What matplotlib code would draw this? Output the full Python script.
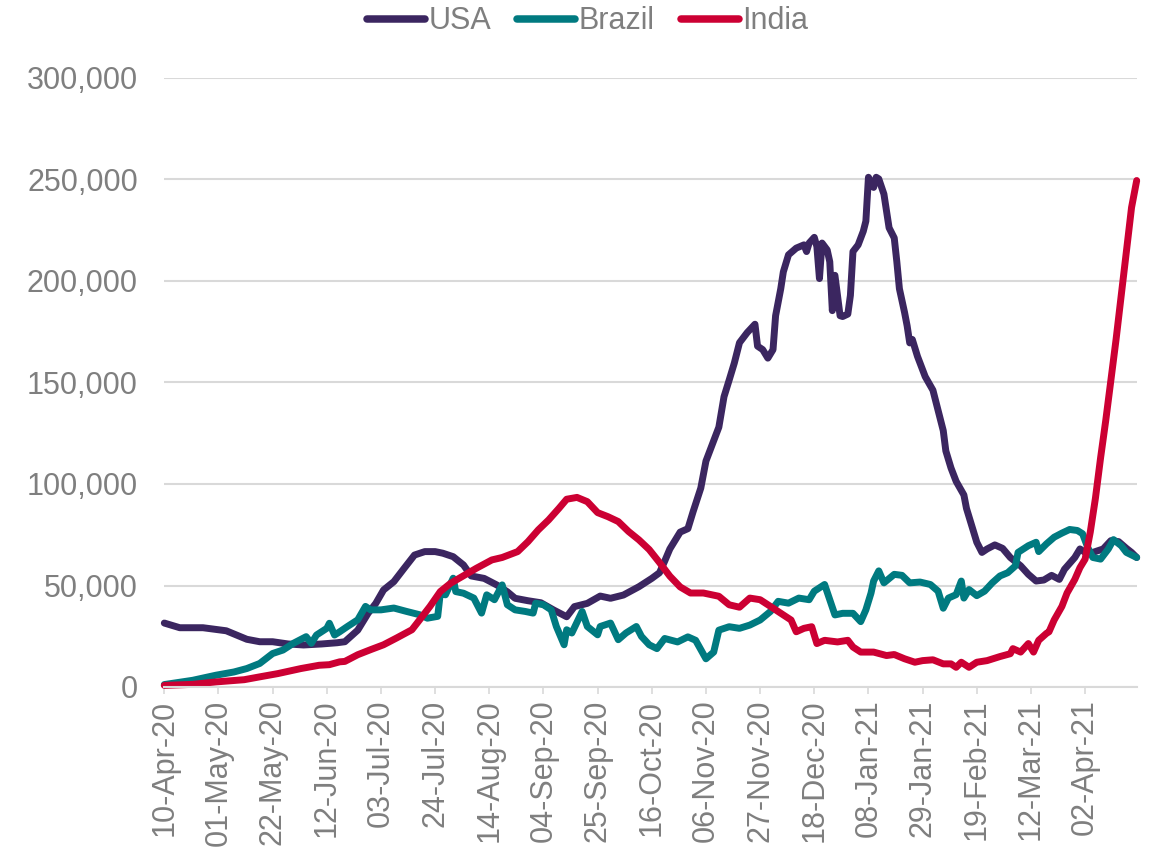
import matplotlib
matplotlib.use("Agg")
import matplotlib.pyplot as plt
from matplotlib.ticker import FuncFormatter, FixedLocator

# ---- data (values in thousands, x = days since 10-Apr-2020) ----
usa_day = [0, 6, 15, 24, 32, 37, 42, 48, 54, 61, 64, 67, 70, 75, 79, 82, 85, 89, 93, 97,
           101, 105, 108, 112, 116, 119, 124, 129, 133, 136, 141, 146, 151, 156, 159, 164,
           169, 173, 178, 184, 189, 192, 194, 196, 200, 203, 205, 208, 210, 213, 215, 217,
           219, 221, 223, 226, 229, 230, 232, 234, 236, 237, 239, 240, 242, 245, 248, 249,
           250, 252, 253, 254, 255, 257, 258, 259, 260, 262, 263, 265, 266, 267, 269, 271,
           272, 273, 275, 276, 277, 279, 281, 283, 284, 285, 287, 288, 289, 290, 292, 295,
           298, 300, 302, 303, 305, 307, 310, 311, 313, 315, 317, 319, 322, 325, 328, 332,
           335, 338, 341, 344, 347, 349, 353, 355, 357, 360, 364, 367, 370, 373, 375, 377]
usa_val = [31.5, 29.2, 29.2, 27.7, 23.5, 22.3, 22.3, 21.2, 20.7, 21.2, 21.5, 21.8, 22.3, 28.0,
           36.3, 41.2, 47.8, 51.9, 58.5, 65.0, 66.7, 66.7, 65.9, 64.2, 60.1, 54.7, 53.5, 50.2,
           46.9, 43.7, 42.5, 41.5, 37.9, 34.6, 39.6, 41.2, 44.8, 43.7, 45.3, 49.4, 53.5, 56.3,
           62.0, 68.0, 76.3, 78.0, 86.3, 98.0, 111.3, 121.3, 128.0, 143.0, 151.2, 159.6, 169.6,
           174.6, 178.7, 167.9, 166.2, 162.0, 166.2, 182.9, 196.2, 204.5, 212.9, 216.2, 217.8,
           214.5, 218.7, 221.5, 217.0, 201.2, 218.7, 215.3, 209.5, 185.4, 202.8, 182.9, 182.5,
           183.7, 192.9, 214.5, 217.8, 224.5, 229.5, 251.1, 246.1, 251.1, 250.3, 242.8, 226.2,
           221.2, 209.5, 196.2, 184.5, 177.9, 169.5, 171.2, 162.9, 152.9, 146.2, 136.2, 126.3,
           116.3, 107.9, 101.3, 94.6, 88.0, 79.6, 71.3, 66.3, 68.0, 70.0, 68.3, 63.8, 59.7,
           55.5, 52.2, 52.7, 55.0, 53.0, 58.0, 63.8, 68.0, 66.3, 66.3, 68.0, 72.1, 71.6, 68.3,
           66.3, 63.8]

brazil_day = [0, 11, 20, 27, 32, 37, 42, 46, 50, 55, 57, 59, 63, 64, 66, 68, 71, 75, 78, 80,
              84, 89, 94, 99, 102, 106, 107, 109, 112, 113, 116, 120, 123, 125, 128, 131, 133,
              136, 140, 143, 144, 147, 150, 152, 155, 156, 158, 162, 164, 168, 169, 173, 176,
              179, 183, 185, 188, 191, 194, 199, 203, 206, 210, 213, 215, 219, 223, 227, 231,
              235, 238, 242, 246, 250, 252, 256, 258, 260, 263, 267, 270, 272, 274, 275, 277,
              279, 283, 286, 289, 293, 297, 300, 302, 304, 307, 309, 310, 312, 315, 318, 321,
              324, 327, 330, 331, 335, 338, 339, 342, 345, 348, 351, 354, 356, 358, 360, 363,
              366, 368, 371, 373, 377]
brazil_val = [1.2, 3.3, 5.8, 7.4, 9.1, 11.6, 16.5, 18.2, 21.5, 24.8, 21.5, 25.6, 28.9, 31.4,
              25.6, 27.2, 29.8, 33.1, 39.7, 38.0, 38.0, 38.9, 37.2, 35.6, 33.9, 34.8, 46.2,
              45.4, 53.6, 47.0, 46.2, 43.8, 36.4, 45.4, 43.0, 50.3, 40.5, 38.0, 37.2, 36.4,
              41.3, 40.5, 38.0, 29.8, 20.8, 28.2, 26.6, 37.2, 29.8, 25.7, 29.8, 31.5, 23.3,
              26.6, 29.8, 24.9, 20.8, 18.9, 23.9, 22.2, 24.7, 23.0, 13.9, 17.2, 28.0, 29.7,
              28.9, 30.5, 33.0, 37.2, 42.2, 41.3, 43.8, 43.0, 47.2, 50.5, 43.0, 35.5, 36.3,
              36.3, 32.2, 38.0, 46.3, 52.2, 57.2, 51.3, 55.5, 55.0, 51.3, 51.7, 50.5, 47.2,
              38.8, 43.8, 45.5, 52.2, 43.8, 48.0, 45.0, 47.2, 51.3, 54.7, 56.3, 59.7, 66.3,
              69.6, 71.3, 66.7, 70.5, 73.8, 75.8, 77.6, 77.1, 75.5, 68.8, 63.8, 63.0, 68.0,
              72.6, 69.6, 66.3, 63.8]

india_day = [0, 11, 20, 31, 37, 44, 53, 60, 64, 68, 70, 75, 80, 85, 90, 96, 99, 103, 107, 111,
             116, 121, 127, 131, 137, 141, 145, 149, 153, 156, 160, 164, 168, 172, 176, 180,
             184, 188, 192, 196, 200, 204, 209, 215, 219, 223, 227, 231, 235, 240, 243, 245,
             248, 251, 253, 256, 261, 265, 267, 270, 275, 280, 283, 287, 291, 294, 298, 302,
             305, 307, 309, 312, 315, 319, 324, 328, 329, 332, 335, 337, 339, 342, 343, 345,
             348, 350, 353, 355, 357, 359, 361, 363, 365, 367, 369, 371, 373, 375, 377]
india_val = [0.8, 1.3, 2.5, 3.6, 5.0, 6.6, 9.1, 10.7, 11.0, 12.4, 12.6, 15.9, 18.4, 20.8, 24.1,
             28.2, 33.1, 39.7, 47.0, 51.1, 54.8, 58.5, 62.6, 63.8, 66.7, 71.6, 77.4, 82.3,
             88.0, 92.5, 93.4, 91.3, 85.9, 83.9, 81.5, 76.6, 72.5, 67.7, 61.3, 54.6, 49.3,
             46.3, 46.3, 44.7, 40.5, 39.3, 43.8, 43.0, 39.7, 35.5, 33.0, 27.2, 28.9, 29.7,
             21.4, 23.0, 22.2, 23.0, 19.7, 17.2, 17.2, 15.5, 16.0, 13.9, 12.2, 13.0, 13.4,
             11.4, 11.4, 9.7, 12.2, 9.7, 12.2, 13.0, 15.0, 16.4, 18.9, 17.2, 21.4, 17.2, 23.0,
             26.4, 27.2, 33.0, 39.7, 46.3, 53.0, 58.8, 63.0, 76.3, 93.0, 112.9, 131.3, 151.2,
             171.2, 192.9, 214.5, 236.2, 249.5]

tick_days = [0, 21, 42, 63, 84, 105, 126, 147, 168, 189, 210, 231, 252, 273, 294, 315, 336, 357]
tick_labels = ["10-Apr-20", "01-May-20", "22-May-20", "12-Jun-20", "03-Jul-20", "24-Jul-20",
               "14-Aug-20", "04-Sep-20", "25-Sep-20", "16-Oct-20", "06-Nov-20", "27-Nov-20",
               "18-Dec-20", "08-Jan-21", "29-Jan-21", "19-Feb-21", "12-Mar-21", "02-Apr-21"]
y_ticks = [0, 50, 100, 150, 200, 250, 300]

# ---- style ----
plt.rcParams['font.family'] = ['Liberation Sans', 'DejaVu Sans']
TXT = '#7F7F7F'
GRID = '#D9D9D9'
LW = 5.0
series = [("USA", usa_day, usa_val, '#3B2660'),
          ("Brazil", brazil_day, brazil_val, '#007A80'),
          ("India", india_day, india_val, '#CC0033')]

fig = plt.figure(figsize=(11.5, 8.57), dpi=100)
ax = fig.add_axes([164.3 / 1150, 1 - 687 / 857, (1136.7 - 164.3) / 1150, (687 - 78) / 857])

for name, d, v, c in series:
    ax.plot(d, [x * 1000 for x in v], color=c, lw=LW, label=name, clip_on=False,
            solid_capstyle='round', solid_joinstyle='round')

ax.set_xlim(0, 377)
ax.set_ylim(0, 300000)
ax.yaxis.set_major_locator(FixedLocator([t * 1000 for t in y_ticks]))
ax.yaxis.set_major_formatter(FuncFormatter(lambda v, p: f"{int(v):,}"))
ax.set_xticks(tick_days)
ax.set_xticklabels(tick_labels, rotation=90, ha='center', va='top')

ax.grid(axis='y', color=GRID, lw=1.5)
ax.set_axisbelow(True)
for s in ['top', 'right', 'left']:
    ax.spines[s].set_visible(False)
ax.spines['bottom'].set_color(GRID)
ax.spines['bottom'].set_linewidth(1.5)
ax.tick_params(axis='y', length=0, pad=19, labelsize=22, labelcolor=TXT)
ax.tick_params(axis='x', length=5, width=1.2, color=GRID, pad=4, labelsize=22, labelcolor=TXT)

leg = fig.legend(loc='center', bbox_to_anchor=(0.511, 0.975), ncol=3, frameon=False,
                 fontsize=22, handlelength=1.9, handletextpad=0.12, columnspacing=0.85,
                 labelcolor=TXT)
for h in leg.get_lines():
    h.set_linewidth(LW + 0.4)
    h.set_solid_capstyle('round')

fig.savefig("out.png", dpi=100)
